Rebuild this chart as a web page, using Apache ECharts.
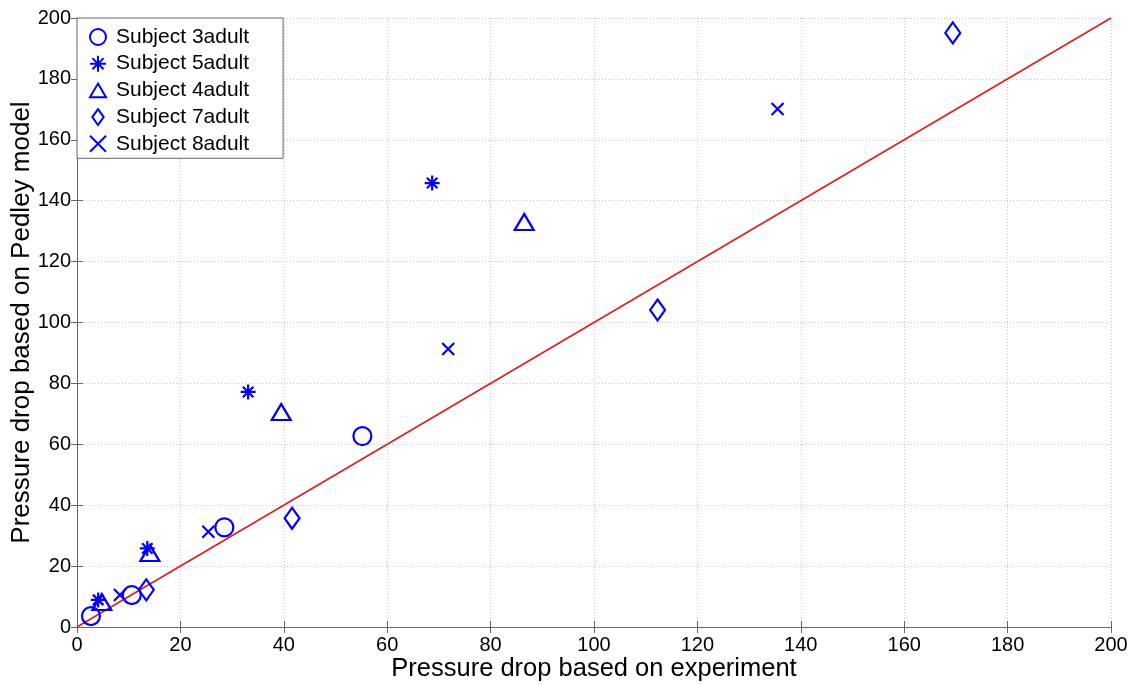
<!DOCTYPE html>
<html>
<head>
<meta charset="utf-8">
<script src="https://cdn.jsdelivr.net/npm/echarts@6/dist/echarts.min.js"></script>
<style>html,body{margin:0;padding:0;background:#fff}#c{width:1140px;height:684px}</style>
</head>
<body>
<div id="c"></div>
<script>
const seriesNames = ['Subject 3adult', 'Subject 5adult', 'Subject 4adult', 'Subject 7adult', 'Subject 8adult'];
const subject3 = [[2.7, 3.6], [10.6, 10.5], [28.5, 32.7], [55.2, 62.7]];
const subject5 = [[4.1, 8.9], [13.6, 25.8], [33.1, 77.2], [68.7, 145.8]];
const subject4 = [[4.8, 8.2], [14.1, 24.3], [39.5, 70.6], [86.5, 133.0]];
const subject7 = [[13.4, 12.2], [41.6, 35.7], [112.3, 104.1], [169.4, 195.1]];
const subject8 = [[8.3, 10.5], [25.4, 31.3], [71.8, 91.3], [135.5, 170.1]];
const refLine = [[0, 0], [200, 200]];
const axisTicks = { min: 0, max: 200, interval: 20 };

const blue = '#0000ff';
const F = 'Liberation Sans, Arial, sans-serif';
const symbols = [
  { sym: 'circle', size: 18 },
  { sym: 'path://M10,0L10,20M0,10L20,10M3,3L17,17M17,3L3,17', size: 15 },
  { sym: 'path://M10,0L20,17L0,17Z', size: [19, 16] },
  { sym: 'path://M10,0L20,14L10,28L0,14Z', size: [15, 21] },
  { sym: 'path://M0,0L20,20M20,0L0,20', size: 12 }
];
const datas = [subject3, subject5, subject4, subject7, subject8];

const scatter = datas.map((d, i) => ({
  name: seriesNames[i],
  type: 'scatter',
  data: d,
  symbol: symbols[i].sym,
  symbolSize: symbols[i].size,
  itemStyle: { color: 'rgba(0,0,0,0)', borderColor: blue, borderWidth: 2.2, opacity: 1 },
  z: 5
}));

const chart = echarts.init(document.getElementById('c'), null, { renderer: 'canvas' });
const axisLineStyle = { color: '#666', width: 1 };
const gridLine = { show: true, lineStyle: { color: '#c8c8c8', type: [1, 2], width: 1 } };
chart.setOption({
  animation: false,
  backgroundColor: '#fff',
  textStyle: { fontFamily: F },
  grid: { left: 77, right: 29, top: 18, bottom: 57, containLabel: false, outerBoundsMode: 'none' },
  legend: {
    data: seriesNames,
    orient: 'vertical',
    left: 77,
    top: 18,
    itemWidth: 16,
    itemHeight: 16,
    itemGap: 5.7,
    padding: [8.5, 34, 4, 12],
    backgroundColor: '#fff',
    borderColor: '#666',
    borderWidth: 1,
    textStyle: { fontFamily: F, fontSize: 21, lineHeight: 21, color: '#000', padding: [0, 0, 0, 5] }
  },
  xAxis: [{
    type: 'value', min: axisTicks.min, max: axisTicks.max, interval: axisTicks.interval,
    name: 'Pressure drop based on experiment', nameLocation: 'middle', nameGap: 29, nameMoveOverlap: false,
    nameTextStyle: { fontFamily: F, fontSize: 25.5, color: '#000' },
    axisLine: { show: true, lineStyle: axisLineStyle },
    axisTick: { show: true, inside: true, length: 6, lineStyle: axisLineStyle },
    axisLabel: { fontFamily: F, fontSize: 20, color: '#000', margin: 8 },
    splitLine: gridLine
  }, {
    type: 'value', position: 'top', min: axisTicks.min, max: axisTicks.max, interval: axisTicks.interval,
    axisLine: { show: true, lineStyle: axisLineStyle },
    axisTick: { show: true, inside: true, length: 6, lineStyle: axisLineStyle },
    axisLabel: { show: false }, splitLine: { show: false }
  }],
  yAxis: [{
    type: 'value', min: axisTicks.min, max: axisTicks.max, interval: axisTicks.interval,
    name: 'Pressure drop based on Pedley model', nameLocation: 'middle', nameGap: 42, nameMoveOverlap: false,
    nameTextStyle: { fontFamily: F, fontSize: 26, color: '#000' },
    axisLine: { show: true, lineStyle: axisLineStyle },
    axisTick: { show: true, inside: true, length: 6, lineStyle: axisLineStyle },
    axisLabel: { fontFamily: F, fontSize: 20, color: '#000', margin: 6 },
    splitLine: gridLine
  }, {
    type: 'value', position: 'right', min: axisTicks.min, max: axisTicks.max, interval: axisTicks.interval,
    axisLine: { show: true, lineStyle: axisLineStyle },
    axisTick: { show: true, inside: true, length: 6, lineStyle: axisLineStyle },
    axisLabel: { show: false }, splitLine: { show: false }
  }],
  series: [
    {
      name: 'ref', type: 'line', data: refLine, showSymbol: false, symbol: 'none',
      lineStyle: { color: '#e41a1a', width: 1.6 }, z: 3, silent: true
    },
    ...scatter
  ]
});
</script>
</body>
</html>
